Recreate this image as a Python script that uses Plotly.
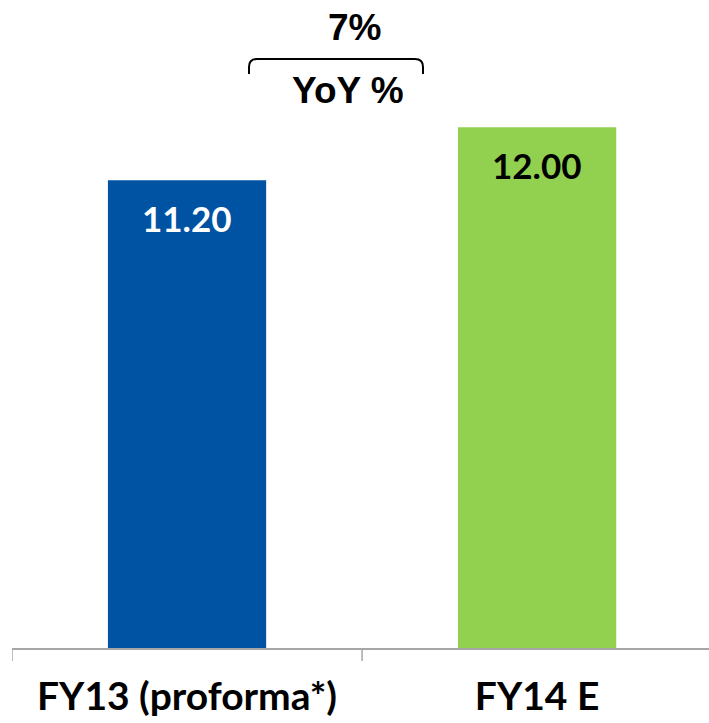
import plotly.graph_objects as go

categories = ["FY13 (proforma*)", "FY14 E"]
values = [11.20, 12.00]
bar_colors = ["#0052A3", "#92D050"]
label_colors = ["#FFFFFF", "#000000"]
growth_label = "YoY %"

W, H = 709, 723
ML, MR, MT, MB = 12, 0, 0, 75
plot_w = W - ML - MR
plot_h = H - MT - MB

y_min, y_max = 4.14, 13.92
x_min, x_max = -0.5, 1.491

def px_x(p):
    return (p - ML) / plot_w

def px_y(p):
    return (H - MB - p) / plot_h

fig = go.Figure()
fig.add_trace(go.Bar(
    x=[0, 1], y=values,
    marker=dict(color=bar_colors, line=dict(width=0)),
    width=0.452,
    hoverinfo="skip",
))

for i, (v, col) in enumerate(zip(values, label_colors)):
    fig.add_annotation(
        x=i, y=v, xref="x", yref="y",
        text=f"{v:.2f}", showarrow=False,
        yanchor="middle", yshift=-38,
        font=dict(family="Lato, Carlito, sans-serif", size=35, color=col, weight="bold"),
    )

yoy = round((values[1] / values[0] - 1) * 100)
fig.add_annotation(
    x=px_x(354), y=px_y(28), xref="paper", yref="paper",
    text=f"<b>{yoy}%</b>", showarrow=False, xanchor="center", yanchor="middle",
    font=dict(family="Liberation Sans, Arial", size=37, color="#000000"),
)
fig.add_annotation(
    x=px_x(348), y=px_y(91), xref="paper", yref="paper",
    text=f"<b>{growth_label}</b>", showarrow=False, xanchor="center", yanchor="middle",
    font=dict(family="Liberation Sans, Arial", size=37, color="#000000"),
)

# bracket
x1, x2 = px_x(249), px_x(423)
yt, ye = px_y(59), px_y(74)
rx, ry = 8 / plot_w, 8 / plot_h
path = (f"M {x1},{ye} L {x1},{yt - ry} Q {x1},{yt} {x1 + rx},{yt} "
        f"L {x2 - rx},{yt} Q {x2},{yt} {x2},{yt - ry} L {x2},{ye}")
fig.add_shape(type="path", path=path, xref="paper", yref="paper",
              line=dict(color="#000000", width=2))

fig.update_layout(
    width=W, height=H,
    margin=dict(l=ML, r=MR, t=MT, b=MB, autoexpand=False),
    plot_bgcolor="white", paper_bgcolor="white",
    showlegend=False,
    xaxis=dict(
        range=[x_min, x_max], automargin=False,
        tickmode="array", tickvals=[0, 1], ticktext=categories,
        showline=True, linecolor="#A6A6A6", linewidth=1.5,
        ticks="", showgrid=False, zeroline=False,
        tickfont=dict(family="Lato, Carlito, sans-serif", size=39, color="#000000", weight="bold"),
        ticklabelstandoff=13,
    ),
    yaxis=dict(range=[y_min, y_max], visible=False, showgrid=False, zeroline=False,
               automargin=False),
)

# category boundary ticks (drawn on the x axis at category edges)
for b in [-0.5, 0.5]:
    fig.add_shape(type="line", xref="x", yref="paper", x0=b, x1=b, y0=0, y1=-13 / plot_h,
                  line=dict(color="#A6A6A6", width=1.5))

fig.write_html("out.html")
